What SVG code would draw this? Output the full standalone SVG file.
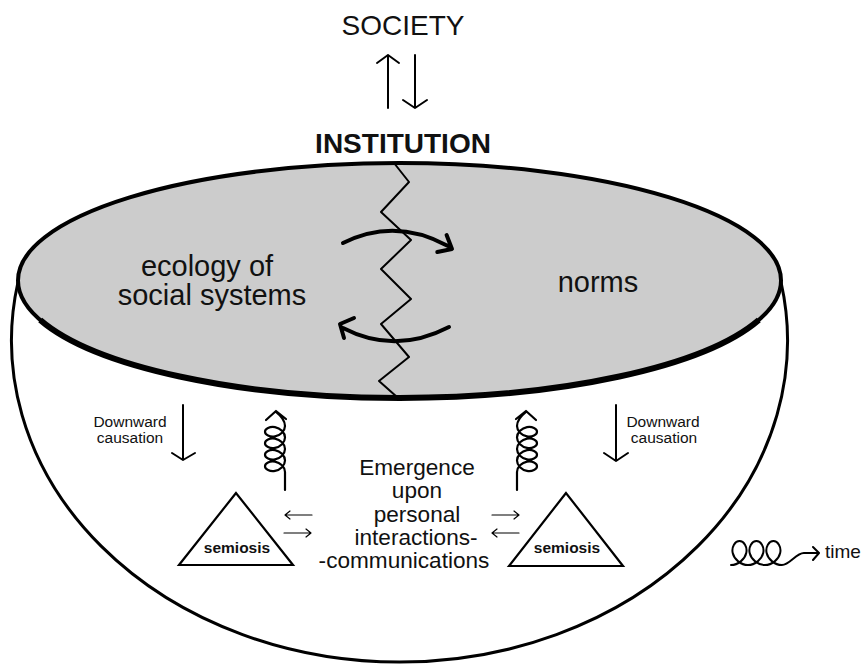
<svg xmlns="http://www.w3.org/2000/svg" width="866" height="664" viewBox="0 0 866 664">
<style>
text{font-family:"Liberation Sans",Arial,sans-serif;fill:#111}
.ln{fill:none;stroke:#000;stroke-linecap:round;stroke-linejoin:round}
.thin{stroke-width:1.2}
.med{stroke-width:2}
.thick{stroke-width:4}
.coil{stroke-width:2.2}
.lbl{font-size:15.5px;text-anchor:middle}
.big{font-size:29px;text-anchor:middle}
.em{font-size:22.6px;text-anchor:middle}
.sem{font-size:15.5px;font-weight:bold;text-anchor:middle}
</style>
<defs>
<path id="coilL" d="M 285 490 L 285 472 c0,-4.885 -4.764,-9.417 -10,-10.375 c-5.236,-0.958 -10,1.656 -10,4.625 c0,2.969 4.764,5.583 10,4.625 c5.236,-0.958 10,-5.49 10,-10.375 c0,-4.885 -4.764,-9.417 -10,-10.375 c-5.236,-0.958 -10,1.656 -10,4.625 c0,2.969 4.764,5.583 10,4.625 c5.236,-0.958 10,-5.49 10,-10.375 c0,-4.885 -4.764,-9.417 -10,-10.375 c-5.236,-0.958 -10,1.656 -10,4.625 c0,2.969 4.764,5.583 10,4.625 c5.236,-0.958 10,-5.49 10,-10.375 c0,-4.885 -4.764,-9.417 -10,-10.375 c-5.236,-0.958 -10,1.656 -10,4.625 c0,2.969 4.764,5.583 10,4.625 c5.236,-0.958 10,-5.49 10,-10.375 c0,-6 -4,-10 -9,-14 M 266 420 L 276 411 L 286 419"/>
</defs>

<g id="bowl">
<path class="ln" stroke-width="3" d="M 18 282 A 388 321.5 0 1 0 781 282"/>
</g>

<g id="institution-disc">
<ellipse cx="399.5" cy="280.5" rx="381.5" ry="117.5" fill="#cccccc" stroke="#000" stroke-width="4"/>
<path fill="none" stroke="#000" stroke-linecap="butt" stroke-width="6" d="M 40.2 320 A 381.5 117.5 0 0 0 758.8 320"/>
<polyline class="ln med" points="394,163 409,182 381,212 411,240 381,269 411,299 381,324 409,357 379,381 397,397"/>
</g>

<g id="society"><text x="403" y="35" class="big" style="font-size:28px">SOCIETY</text></g>
<g id="institution"><text x="403" y="153" class="big" style="font-size:28px;font-weight:bold">INSTITUTION</text></g>
<g id="ecology"><text class="big" x="207" y="276">ecology of</text><text class="big" x="212" y="305">social systems</text></g>
<g id="norms"><text class="big" x="598" y="292">norms</text></g>

<g id="emergence">
<text class="em" x="417" y="475">Emergence</text>
<text class="em" x="417" y="498">upon</text>
<text class="em" x="417" y="522">personal</text>
<text class="em" x="416" y="545">interactions-</text>
<text class="em" x="404" y="568">-communications</text>
</g>

<g id="semiosis-left">
<polygon points="236,493 179,565 293,565" fill="#fff" stroke="#000" stroke-width="2.2" stroke-linejoin="miter"/>
<text class="sem" x="237" y="553">semiosis</text>
</g>
<g id="semiosis-right">
<polygon points="566,493 509,566 623,566" fill="#fff" stroke="#000" stroke-width="2.2" stroke-linejoin="miter"/>
<text class="sem" x="567" y="553">semiosis</text>
</g>

<g id="downward-left"><text class="lbl" x="130" y="427">Downward</text><text class="lbl" x="130" y="443">causation</text></g>
<g id="downward-right"><text class="lbl" x="663" y="427">Downward</text><text class="lbl" x="664" y="443">causation</text></g>

<g id="time-legend">
<path class="ln med" d="M 731 565 c7.17,0 13.83,-5.72 15.24,-12 c1.41,-6.28 -2.41,-12 -6.76,-12 c-4.35,0 -8.17,5.72 -6.76,12 c1.41,6.28 8.07,12 15.24,12 c7.17,0 13.83,-5.72 15.24,-12 c1.41,-6.28 -2.41,-12 -6.76,-12 c-4.35,0 -8.17,5.72 -6.76,12 c1.41,6.28 8.07,12 15.24,12 c7.17,0 13.83,-5.72 15.24,-12 c1.41,-6.28 -2.41,-12 -6.76,-12 c-4.35,0 -8.17,5.72 -6.76,12 c1.41,6.28 8.07,12 15.24,12 c8,0 14,-12 22,-12 L 818 553 M 813 547 L 819 553 L 813 560"/>
<text x="825" y="558" style="font-size:19px">time</text>
</g>

<g id="connectors">
<path class="ln med" d="M 388 108 L 388 55 M 377 63 L 388 55 L 399 63"/>
<path class="ln med" d="M 415 55 L 415 108 M 403 100 L 415 108 L 427 100"/>
<path class="ln thick" d="M 343 243 Q 395 217 448 246 M 446.6 235 L 452 249 L 437.3 252"/>
<path class="ln thick" d="M 449 327 Q 395 355 343 328 M 354 318 L 340 324 L 344 338"/>
<path class="ln med" d="M 183 405 L 183 460 M 172 453 L 183 460 L 195 453"/>
<path class="ln med" d="M 616 405 L 616 461 M 604 453 L 616 461 L 628 453"/>
<use href="#coilL" class="ln coil"/>
<use href="#coilL" class="ln coil" transform="translate(802,0) scale(-1,1)"/>
<path class="ln thin" d="M 312 515 L 285 515 M 290 511 L 285 515 L 290 519"/>
<path class="ln thin" d="M 284 533 L 311 533 M 306 529 L 311 533 L 306 537"/>
<path class="ln thin" d="M 492 515 L 519 515 M 514 511 L 519 515 L 514 519"/>
<path class="ln thin" d="M 519 533 L 492 533 M 497 529 L 492 533 L 497 537"/>
</g>
</svg>
